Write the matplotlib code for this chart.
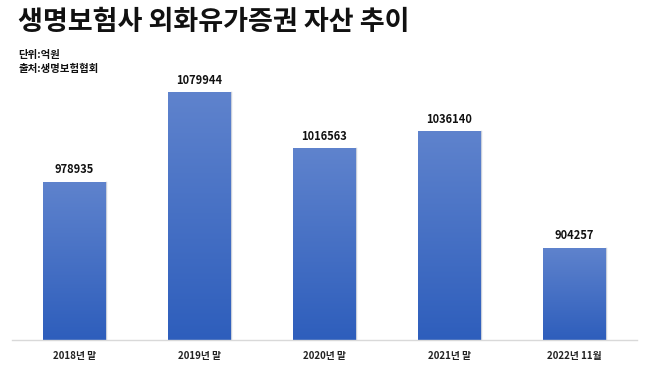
import numpy as np
import matplotlib
matplotlib.use("Agg")
from matplotlib import pyplot as plt
from matplotlib.colors import LinearSegmentedColormap

plt.rcParams['font.family'] = ['Noto Sans CJK KR', 'DejaVu Sans']

categories = ['2018년 말', '2019년 말', '2020년 말', '2021년 말', '2022년 11월']
values = [978935, 1079944, 1016563, 1036140, 904257]

title = '생명보험사 외화유가증권 자산 추이'
unit_txt = '단위:억원'
source_txt = '출처:생명보험협회'

fig = plt.figure(figsize=(6.48, 3.72), dpi=100)
ax = fig.add_axes([0.0185, 0.086, 0.9645, 0.714])

ymin, ymax = 800000, 1100000
x = np.arange(len(categories))
bars = ax.bar(x, values, width=0.5, color='none', edgecolor='none')

# gradient fill: lighter at top, darker at bottom
cmap = LinearSegmentedColormap.from_list('bl', ['#2E5EBC', '#5F83CD'])
grad = np.linspace(0, 1, 256).reshape(-1, 1)
for b in bars:
    x0, w, h = b.get_x(), b.get_width(), b.get_height()
    im = ax.imshow(grad, cmap=cmap, origin='lower', aspect='auto',
                   extent=[x0, x0 + w, ymin, h], zorder=2)
    im.set_clip_path(b)
    ax.plot([x0 + w, x0 + w], [ymin, h], color='#c9cfdb', lw=1.0, zorder=1)

for xi, v in zip(x, values):
    ax.text(xi, v + 6000, str(v), ha='center', va='bottom',
            fontsize=8, fontweight='bold', color='#111111')

ax.set_xlim(-0.5, 4.5)
ax.set_ylim(ymin, ymax)
ax.set_yticks([])
ax.set_xticks(x)
ax.set_xticklabels(categories, fontsize=7, fontweight='bold', color='#222222')
ax.tick_params(axis='x', length=0, pad=8)
for s in ['top', 'right', 'left']:
    ax.spines[s].set_visible(False)
ax.spines['bottom'].set_color('#d9d9d9')
ax.spines['bottom'].set_linewidth(1.0)

fig.text(0.028, 0.94, title, fontsize=19.5, fontweight='bold', color='#111111',
         va='center', ha='left')
fig.text(0.028, 0.852, unit_txt, fontsize=7.5, fontweight='bold', color='#111111',
         va='center', ha='left')
fig.text(0.028, 0.815, source_txt, fontsize=7.5, fontweight='bold', color='#111111',
         va='center', ha='left')

fig.savefig('out.png', dpi=100, facecolor='white')
